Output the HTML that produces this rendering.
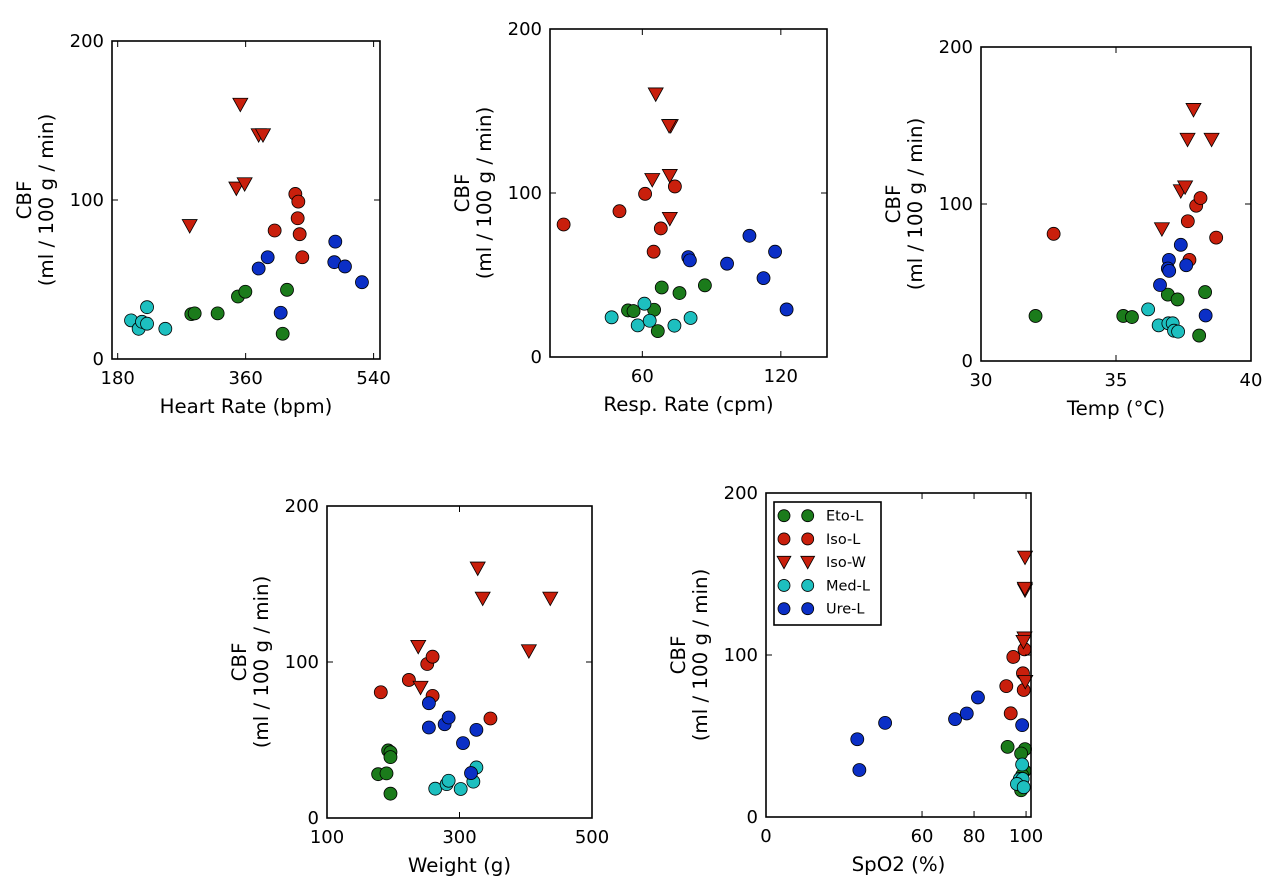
<!DOCTYPE html>
<html><head><meta charset="utf-8">
<style>
html,body{margin:0;padding:0;background:#fff;}
svg{display:block;font-family:"DejaVu Sans","Liberation Sans",sans-serif;}
</style></head>
<body>
<svg id="fig" width="1288" height="886" viewBox="0 0 1288 886" xmlns="http://www.w3.org/2000/svg"></svg>
<script>
// ---- data (CBF in ml/100g/min) ----
const groups = ["Eto-L","Iso-L","Iso-W","Med-L","Ure-L"];
// Heart rate panel
const hrEtoX=[283.6,288.3,320.6,349.2,359.6,418.2,412.1], hrEtoY=[28.2,28.7,28.7,39.3,42.3,43.5,15.9];
const hrIsoLX=[429.9,434.1,433.2,400.8,436,439.7], hrIsoLY=[103.8,99,88.5,80.8,78.5,64];
const hrIsoWX=[352.5,378.3,384.4,346.9,358.6,281.3], hrIsoWY=[160,140.8,140.8,107.3,110,83.7];
const hrMedX=[198.8,209.5,214.2,221.3,221.3,247], hrMedY=[24.3,19,23.4,22.2,32.6,19];
const hrUreX=[486.1,391,378.3,484.7,499.7,523.6,409.3], hrUreY=[73.8,64,56.9,60.9,58.2,48.3,29.1];
// Resp rate panel
const rrEtoX=[68.4,76.1,87.1,53.8,56.2,65.1,66.7], rrEtoY=[42.4,39,43.7,28.4,28,28.8,15.8];
const rrIsoLX=[25.9,50.1,61.2,74.1,68,64.9], rrIsoLY=[80.8,88.9,99.5,104,78.4,64.2];
const rrIsoWX=[65.8,72.3,71.6,64.3,71.9,71.9], rrIsoWY=[160.2,140.9,140.9,108,110.5,84.3];
const rrMedX=[46.7,58,60.9,63.2,73.9,80.9], rrMedY=[24.2,19.3,32.5,22.1,19.1,23.8];
const rrUreX=[106.4,117.5,79.9,80.6,96.7,112.5,122.5], rrUreY=[73.9,64.2,60.9,58.9,56.9,48.1,29];
// Temperature panel
const tEtoX=[32.02,35.27,35.59,36.92,37.28,38.3,38.08], tEtoY=[28.7,28.7,28,42.3,39.2,43.9,16.2];
const tIsoLX=[32.69,37.66,37.97,38.13,38.71,37.72], tIsoLY=[81,89,98.9,103.8,78.6,64.4];
const tIsoWX=[37.87,37.65,38.54,37.4,37.56,36.7], tIsoWY=[160,141,141,108.2,110.7,84];
const tMedX=[36.19,36.58,36.94,37.1,37.15,37.3], tMedY=[32.9,22.7,24,24,19.3,18.7];
const tUreX=[37.4,36.96,36.92,36.97,37.6,36.63,38.32], tUreY=[74,64.4,58.9,57.4,61,48.4,29];
// Weight panel
const wEtoX=[192.3,195.8,195.8,177.2,189.8,195.8], wEtoY=[43.3,42.2,39,28.1,28.6,15.6];
const wIsoLX=[181.2,223.6,251.3,259.4,259.4,346.7], wIsoLY=[80.6,88.5,98.7,103.4,78.3,63.8];
const wIsoWX=[327.5,335,437,404.7,237.7,241.2], wIsoWY=[160,140.7,140.7,107,109.8,83.6];
const wMedX=[263.4,280.6,283.6,301.8,320.9,325.5], wMedY=[18.8,21.7,23.9,18.6,23.3,32.4];
const wUreX=[253.8,253.8,277.6,283.6,325.5,305.3,317.4], wUreY=[73.6,58,60.1,64.4,56.5,48,28.8];
// SpO2 panel
const sEtoX=[92.9,99.6,98.1,99.4,98.5,98.1], sEtoY=[43.3,41.9,39.2,28.5,25.8,16.5];
const sIsoLX=[99.4,95.1,98.8,92.4,99.1,94.1], sIsoLY=[103.5,98.8,88.7,80.8,78.4,64];
const sIsoWX=[99.6,99.6,99.4,99,99.7,99.5], sIsoWY=[160.2,140,110.3,108.2,83.5,141];
const sMedX=[98.5,97.6,98.7,96.5,99.1], sMedY=[32.4,23.5,23.5,20.4,18.4];
const sUreX=[35.1,35.9,45.8,72.7,77.2,81.5,98.5], sUreY=[48,29,58.1,60.4,63.9,73.8,56.7];
const yTicks=[0,100,200];
const hrTicks=[180,360,540], rrTicks=[60,120], tTicks=[30,35,40], wTicks=[100,300,500], sTicks=[0,60,80,100];

const colors={"Eto-L":"#1b7b1b","Iso-L":"#c91f0c","Iso-W":"#c91f0c","Med-L":"#1dbfbf","Ure-L":"#0b2fc6"};
const NS="http://www.w3.org/2000/svg";
const svg=document.getElementById('fig');
function mk(tag,attrs,parent){const e=document.createElementNS(NS,tag);for(const k in attrs)e.setAttribute(k,attrs[k]);(parent||svg).appendChild(e);return e;}

const panels=[
 {name:"heart-rate",L:112,R:380,T:41,B:359,xmin:172,xmax:549,ticks:hrTicks,label:"Heart Rate (bpm)",
  d:[[hrEtoX,hrEtoY],[hrIsoLX,hrIsoLY],[hrIsoWX,hrIsoWY],[hrMedX,hrMedY],[hrUreX,hrUreY]]},
 {name:"resp-rate",L:550,R:827,T:29,B:357,xmin:20,xmax:140,ticks:rrTicks,label:"Resp. Rate (cpm)",
  d:[[rrEtoX,rrEtoY],[rrIsoLX,rrIsoLY],[rrIsoWX,rrIsoWY],[rrMedX,rrMedY],[rrUreX,rrUreY]]},
 {name:"temp",L:981,R:1251,T:47,B:361,xmin:30,xmax:40,ticks:tTicks,label:"Temp (°C)",
  d:[[tEtoX,tEtoY],[tIsoLX,tIsoLY],[tIsoWX,tIsoWY],[tMedX,tMedY],[tUreX,tUreY]]},
 {name:"weight",L:327,R:592,T:506,B:818,xmin:100,xmax:500,ticks:wTicks,label:"Weight (g)",
  d:[[wEtoX,wEtoY],[wIsoLX,wIsoLY],[wIsoWX,wIsoWY],[wMedX,wMedY],[wUreX,wUreY]]},
 {name:"spo2",L:766,R:1031,T:493,B:817,xmin:0,xmax:101.9,ticks:sTicks,label:"SpO2 (%)",
  d:[[sEtoX,sEtoY],[sIsoLX,sIsoLY],[sIsoWX,sIsoWY],[sMedX,sMedY],[sUreX,sUreY]]}
];

function marker(g,grp,cx,cy,r,parent){
  let e;
  if(grp==="Iso-W"){
    const s=r*1.15;
    e=mk('polygon',{points:`${cx-s},${cy-s*0.85} ${cx+s},${cy-s*0.85} ${cx},${cy+s*0.95}`,fill:colors[grp],stroke:"#000","stroke-width":0.8},parent);
  } else {
    e=mk('circle',{cx:cx,cy:cy,r:r,fill:colors[grp],stroke:"#000","stroke-width":0.8},parent);
  }
  return e;
}

panels.forEach(p=>{
  const g=mk('g',{});
  
  
  const sx=v=>p.L+(v-p.xmin)/(p.xmax-p.xmin)*(p.R-p.L);
  const sy=v=>p.B-(v/200)*(p.B-p.T);
  p.d.forEach((pair,gi)=>{
    const grp=groups[gi];
    pair[0].forEach((xv,i)=>{
      const m=marker(g,grp,sx(xv),sy(pair[1][i]),6.5,g);
      
      
    });
  });
  const fr=mk('rect',{x:p.L,y:p.T,width:p.R-p.L,height:p.B-p.T,fill:"none",stroke:"#000","stroke-width":1.6},g);
  
  
  yTicks.forEach(t=>{
    const y=sy(t);
    mk('line',{x1:p.L,x2:p.L+6,y1:y,y2:y,stroke:"#000","stroke-width":1},g);
    mk('line',{x1:p.R,x2:p.R-6,y1:y,y2:y,stroke:"#000","stroke-width":1},g);
    const tx=mk('text',{x:p.L-8,y:y+6,"text-anchor":"end","font-size":18},g);
    tx.textContent=t;
    
    
  });
  p.ticks.forEach(t=>{
    const x=sx(t);
    mk('line',{x1:x,x2:x,y1:p.B,y2:p.B-6,stroke:"#000","stroke-width":1},g);
    mk('line',{x1:x,x2:x,y1:p.T,y2:p.T+6,stroke:"#000","stroke-width":1},g);
    const tx=mk('text',{x:x,y:p.B+25,"text-anchor":"middle","font-size":18},g);
    tx.textContent=t;
    
    
  });
  const xl=mk('text',{x:(p.L+p.R)/2,y:p.B+54,"text-anchor":"middle","font-size":19.8},g);
  xl.textContent=p.label;
  
  
  const cy=(p.T+p.B)/2;
  const y1=mk('text',{x:0,y:0,"text-anchor":"middle","font-size":19.8,transform:`translate(${p.L-81},${cy}) rotate(-90)`},g);
  y1.textContent="CBF";
  
  
  const y2=mk('text',{x:0,y:0,"text-anchor":"middle","font-size":19.8,transform:`translate(${p.L-59},${cy}) rotate(-90)`},g);
  y2.textContent="(ml / 100 g / min)";
  
  
});

const lg=mk('g',{});


mk('rect',{x:774,y:502,width:107,height:123,fill:"#fff",stroke:"#000","stroke-width":1.6},lg);
groups.forEach((grp,i)=>{
  const y=515.7+i*23.25;
  const e=mk('g',{},lg);
  
  
  marker(e,grp,784,y,6,e);
  marker(e,grp,807.7,y,6,e);
  const t=mk('text',{x:826,y:y+5,"font-size":14.5},e);
  t.textContent=grp;
});
</script>
</body></html>
